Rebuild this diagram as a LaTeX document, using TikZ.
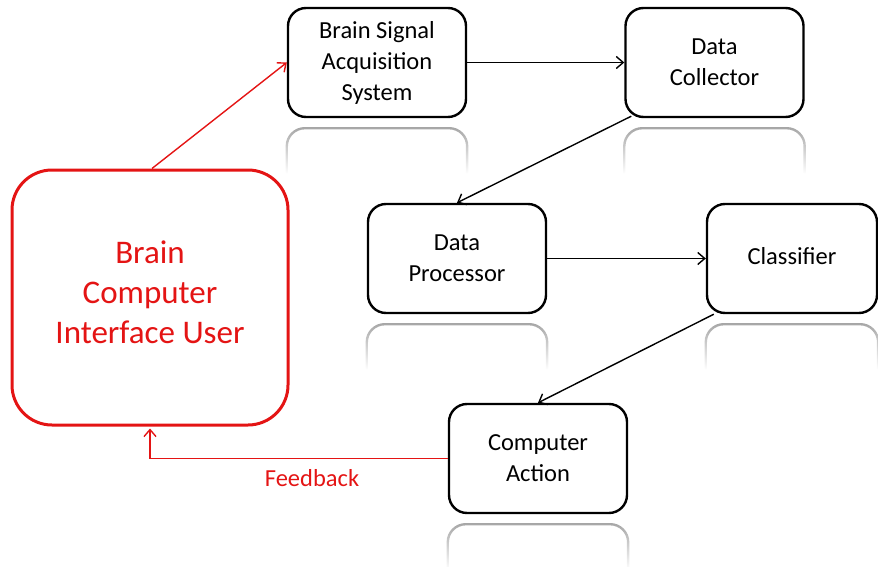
\documentclass[tikz,border=0pt]{standalone}
\usepackage{fontspec}
\setmainfont{Carlito}
\usetikzlibrary{arrows.meta,fadings}
\tikzfading[name=reflfade, top color=transparent!30, bottom color=transparent!100]
\definecolor{bcired}{RGB}{228,20,20}
\begin{document}
\begin{tikzpicture}[x=1pt,y=1pt,
  box/.style={draw=black, line width=2.4pt, rounded corners=18pt, fill=white,
    minimum width=178pt, minimum height=109pt, inner sep=0pt, align=center,
    font=\fontsize{24.5}{31}\selectfont},
  userbox/.style={draw=bcired, line width=3pt, rounded corners=40pt, fill=white,
    minimum width=276pt, minimum height=255pt, inner sep=0pt, align=center,
    text=bcired, font=\fontsize{33}{40}\selectfont},
  refl/.style={draw=black!50, line width=2.4pt, rounded corners=18pt, path fading=reflfade},
  arr/.style={line width=1.4pt, -{Straight Barb[length=7pt,width=12pt]}},
  redarr/.style={arr, draw=bcired},
  lbl/.style={text=bcired, font=\fontsize{24.5}{31}\selectfont, inner sep=0pt}]
\useasboundingbox (0,0) rectangle (878,-567);

\node[box] (bsa) at (377,-62.5) {Brain Signal\\Acquisition\\System};
\node[box] (dc) at (714.5,-62.5) {Data\\Collector};
\node[box] (dp) at (457,-258.5) {Data\\Processor};
\node[box, minimum width=170pt, text depth=6pt] (cl) at (792,-258.5) {Classifier};
\node[box] (ca) at (538,-458.5) {Computer\\Action};
\node[userbox, text depth=10pt] (user) at (150,-297.5) {Brain\\Computer\\Interface User};

% reflections
\foreach \n in {bsa,dc,dp,cl,ca}{
  \draw[refl] ([yshift=-55pt]\n.south west) -- ([yshift=-10pt]\n.south west)
    -- ([yshift=-10pt]\n.south east) -- ([yshift=-55pt]\n.south east);
}

\coordinate (dcout) at ([xshift=7pt,yshift=2pt]dc.south west);
\coordinate (clout) at ([xshift=8pt,yshift=0pt]cl.south west);

\draw[arr] (bsa.east) -- (dc.west);
\draw[arr] (dcout) -- (dp.north);
\draw[arr] (dp.east) -- (cl.west);
\draw[arr] (clout) -- (ca.north);
\draw[redarr] ([xshift=2pt]user.north) -- (bsa.west);
\draw[redarr] (ca.west) -| ([yshift=-2pt]user.south);
\node[lbl] (fb) at (312,-478) {Feedback};
\end{tikzpicture}
\end{document}
